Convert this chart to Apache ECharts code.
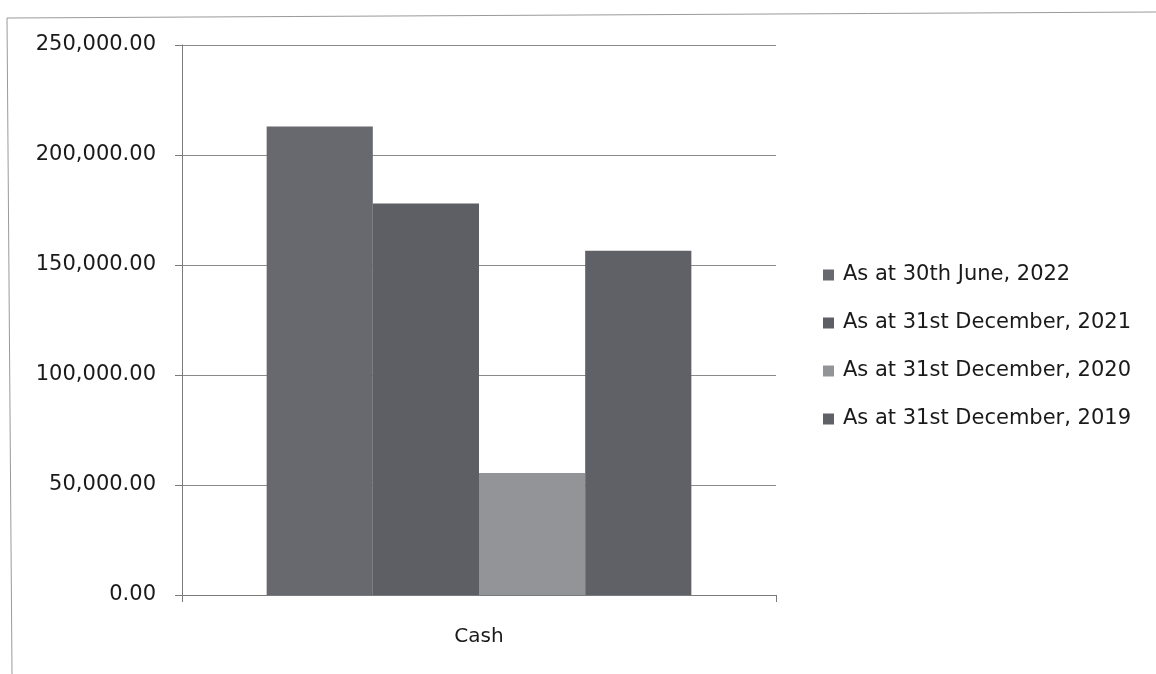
<!DOCTYPE html>
<html>
<head>
<meta charset="utf-8">
<script src="https://cdn.jsdelivr.net/npm/echarts@6/dist/echarts.min.js"></script>
<style>
  html, body { margin: 0; padding: 0; background: #fff; }
  #chart { width: 1156px; height: 674px; }
</style>
</head>
<body>
<div id="chart"></div>
<script>
// Cash balances at each reporting date
const categories = ['Cash'];
const seriesNames = [
  'As at 30th June, 2022',
  'As at 31st December, 2021',
  'As at 31st December, 2020',
  'As at 31st December, 2019'
];
const jun2022 = [213000];
const dec2021 = [178000];
const dec2020 = [55500];
const dec2019 = [156500];
const yTicks = [0, 50000, 100000, 150000, 200000, 250000];

const seriesValues = [jun2022, dec2021, dec2020, dec2019];
const colors = ['#68696e', '#5e5f64', '#939498', '#606166'];
const font = '"DejaVu Sans", sans-serif';

const chart = echarts.init(document.getElementById('chart'));
chart.setOption({
  backgroundColor: '#ffffff',
  animation: false,
  graphic: [{
    type: 'polyline',
    shape: { points: [[12, 674], [7, 18], [1156, 12]] },
    style: { stroke: '#9a9a9a', lineWidth: 1, fill: null }
  }],
  grid: { left: 182, top: 45, width: 594, height: 550, containLabel: false },
  legend: {
    orient: 'vertical',
    left: 818,
    top: 259,
    itemWidth: 11,
    itemHeight: 11,
    itemGap: 26,
    icon: 'rect',
    textStyle: { fontFamily: font, fontSize: 21, lineHeight: 22, color: '#1a1a1a', padding: [0, 0, 0, 4] },
    data: seriesNames
  },
  xAxis: {
    type: 'category',
    data: categories,
    axisLine: { lineStyle: { color: '#7a7a7a' } },
    axisTick: { show: true, length: 7, lineStyle: { color: '#7a7a7a' } },
    axisLabel: { fontFamily: font, fontSize: 20, color: '#1a1a1a', margin: 32 }
  },
  yAxis: {
    type: 'value',
    min: yTicks[0],
    max: yTicks[yTicks.length - 1],
    interval: yTicks[1] - yTicks[0],
    axisLine: { show: true, lineStyle: { color: '#7a7a7a' } },
    axisTick: { show: true, length: 7, lineStyle: { color: '#7a7a7a' } },
    splitLine: { lineStyle: { color: '#8a8a8a' } },
    axisLabel: {
      fontFamily: font, fontSize: 21, color: '#1a1a1a', margin: 26,
      formatter: v => v.toLocaleString('en-US', { minimumFractionDigits: 2, maximumFractionDigits: 2 })
    }
  },
  series: seriesNames.map((name, i) => ({
    name,
    type: 'bar',
    data: seriesValues[i],
    barGap: '0%',
    barCategoryGap: '28.5%',
    itemStyle: { color: colors[i] }
  }))
});
</script>
</body>
</html>
